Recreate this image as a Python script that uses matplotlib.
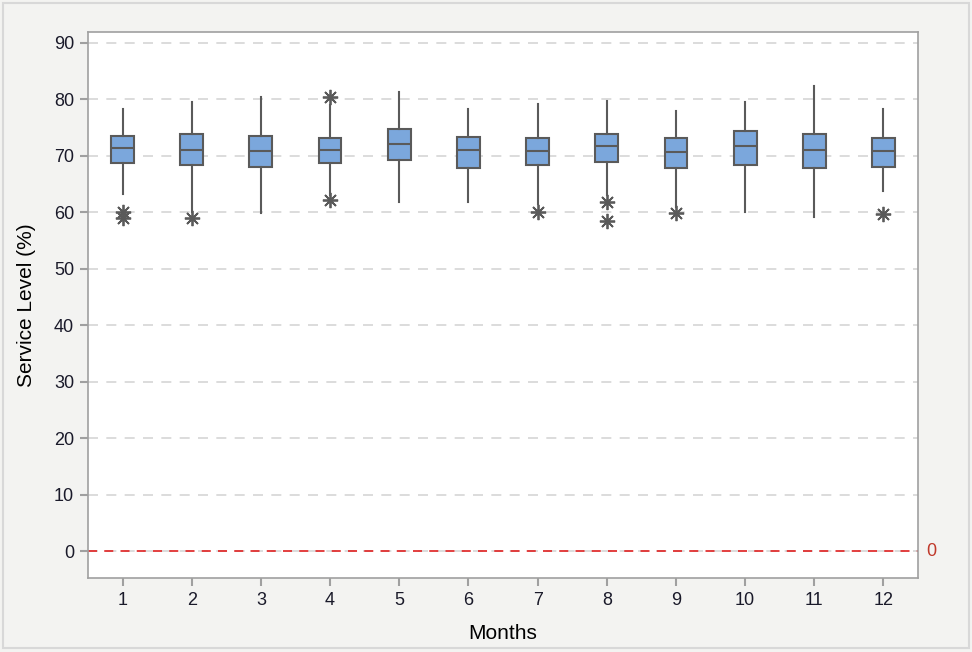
import matplotlib
matplotlib.use('Agg')
from matplotlib import pyplot as plt
from matplotlib.patches import Rectangle

# 월별 서비스 수준 상자그림 값
months = [1, 2, 3, 4, 5, 6, 7, 8, 9, 10, 11, 12]
whisker_low = [63.3, 60.1, 59.9, 63.1, 61.8, 61.8, 61.5, 63.0, 61.0, 60.0, 59.1, 63.8]
q1 = [68.7, 68.3, 68.1, 68.7, 69.3, 67.8, 68.3, 69.0, 67.8, 68.3, 67.8, 68.1]
median = [71.4, 71.0, 70.8, 71.0, 72.1, 71.0, 70.9, 71.8, 70.6, 71.7, 71.0, 70.8]
q3 = [73.5, 73.9, 73.5, 73.1, 74.7, 73.4, 73.1, 73.8, 73.1, 74.4, 73.8, 73.2]
whisker_high = [78.3, 79.5, 80.4, 79.0, 81.3, 78.3, 79.2, 79.8, 78.0, 79.5, 82.3, 78.3]
outliers = [[60.0, 59.0], [59.0], [], [80.4, 62.1], [], [], [60.0], [61.8, 58.5], [59.9], [], [], [59.7]]
ref_value = 0

BOX_FACE = '#7BA7DC'
EDGE = '#5A5A5A'
FONT = ['Liberation Sans', 'DejaVu Sans']

fig = plt.figure(figsize=(9.72, 6.52), dpi=100)
fig.patch.set_facecolor('#F3F3F1')
fig.patches.append(Rectangle((0.003, 0.006), 0.994, 0.99, transform=fig.transFigure,
                             fill=False, edgecolor='#D8D8D8', linewidth=1.5))
ax = fig.add_axes([0.0905, 0.1135, 0.854, 0.8375])
ax.set_facecolor('white')

stats = []
for i in range(len(months)):
    stats.append({
        'whislo': whisker_low[i], 'q1': q1[i], 'med': median[i],
        'q3': q3[i], 'whishi': whisker_high[i], 'fliers': outliers[i],
    })

ax.bxp(stats, positions=months, widths=0.33, patch_artist=True, showcaps=False,
       boxprops=dict(facecolor=BOX_FACE, edgecolor=EDGE, linewidth=1.5),
       medianprops=dict(color=EDGE, linewidth=1.5),
       whiskerprops=dict(color=EDGE, linewidth=1.5),
       flierprops=dict(marker=(8, 2, 0), markersize=11, markeredgecolor=EDGE,
                       markerfacecolor=EDGE, markeredgewidth=1.3),
       zorder=3)

# 기준선
ax.axhline(ref_value, color='#E03030', linestyle=(0, (5, 4)), linewidth=1.3, zorder=2)
ax.text(12.5 + 0.12, ref_value, '0', color='#C0392B', fontsize=13, va='center', ha='left',
        family=FONT)

ax.set_xlim(0.5, 12.5)
ax.set_ylim(-4.78, 91.95)
ax.set_yticks(range(0, 91, 10))
ax.set_xticks(months)
ax.yaxis.grid(True, color='#D5D5D5', linestyle=(0, (6, 5)), linewidth=1.2, zorder=0)
ax.set_axisbelow(True)

for sp in ax.spines.values():
    sp.set_color('#A0A0A0')
    sp.set_linewidth(1.2)
ax.tick_params(axis='both', colors='#A0A0A0', length=6, width=1.5, labelcolor='#1A1A2A',
               labelsize=13, pad=4)
for lbl in ax.get_xticklabels() + ax.get_yticklabels():
    lbl.set_family(FONT)

ax.set_xlabel('Months', fontsize=15, family=FONT, labelpad=11)
ax.set_ylabel('Service Level (%)', fontsize=15, family=FONT, labelpad=13)

fig.savefig('out.png', dpi=100, facecolor=fig.get_facecolor())
